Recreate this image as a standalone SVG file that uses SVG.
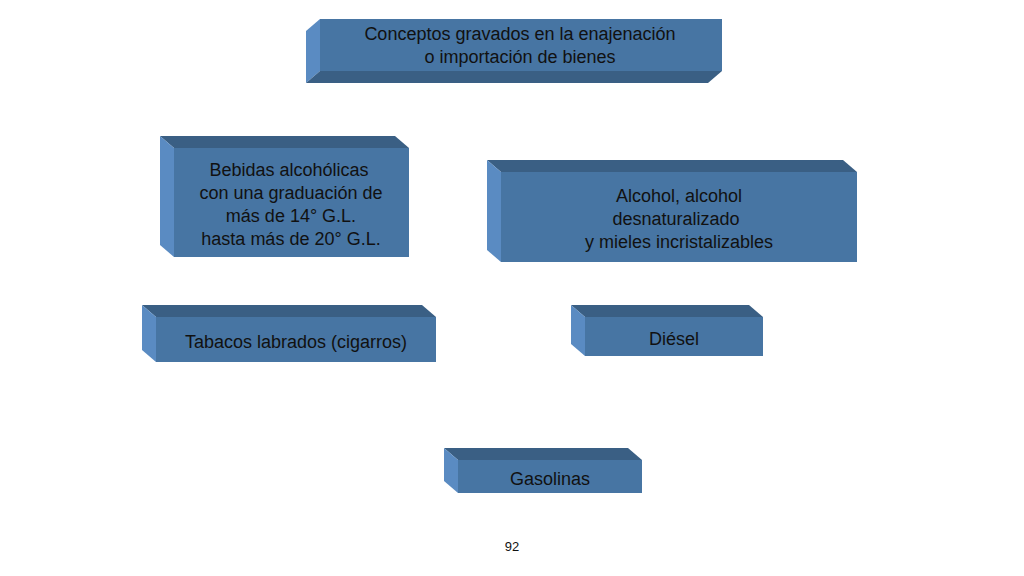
<svg xmlns="http://www.w3.org/2000/svg" width="1024" height="576" viewBox="0 0 1024 576">
<style>
.f{fill:#4775a3}.l{fill:#5a8bc2}.t{fill:#3a5f84}
text{font-family:"Liberation Sans",Arial,sans-serif;font-size:18px;fill:#111;text-anchor:middle}
</style>
<rect width="1024" height="576" fill="#fff"/>
<g id="n0">
<polygon class="l" points="306,31 320,19 320,71 306,83"/>
<polygon class="t" points="306,83 320,71 722,71 708,83"/>
<rect class="f" x="320" y="19" width="402" height="52"/>
<text x="520" y="40">Conceptos gravados en la enajenación</text>
<text x="520" y="63">o  importación de bienes</text>
</g>
<g id="n1">
<polygon class="t" points="160,136 395,136 409,148 174,148"/>
<polygon class="l" points="160,136 174,148 174,257 160,245"/>
<rect class="f" x="174" y="148" width="235" height="109"/>
<text x="289" y="176">Bebidas alcohólicas</text>
<text x="291" y="199">con una graduación de</text>
<text x="291" y="222">más de 14°   G.L.</text>
<text x="291" y="245">hasta más de 20°   G.L.</text>
</g>
<g id="n2">
<polygon class="t" points="487,160 843,160 857,172 501,172"/>
<polygon class="l" points="487,160 501,172 501,262 487,250"/>
<rect class="f" x="501" y="172" width="356" height="90"/>
<text x="679" y="202">Alcohol, alcohol</text>
<text x="676" y="225">desnaturalizado</text>
<text x="679" y="248">y mieles incristalizables</text>
</g>
<g id="n3">
<polygon class="t" points="142,305 422,305 436,317 156,317"/>
<polygon class="l" points="142,305 156,317 156,362 142,350"/>
<rect class="f" x="156" y="317" width="280" height="45"/>
<text x="296" y="348">Tabacos labrados (cigarros)</text>
</g>
<g id="n4">
<polygon class="t" points="571,305 749,305 763,317 585,317"/>
<polygon class="l" points="571,305 585,317 585,356 571,344"/>
<rect class="f" x="585" y="317" width="178" height="39"/>
<text x="674" y="345">Diésel</text>
</g>
<g id="n5">
<polygon class="t" points="444,448 628,448 642,460 458,460"/>
<polygon class="l" points="444,448 458,460 458,493 444,481"/>
<rect class="f" x="458" y="460" width="184" height="33"/>
<text x="550" y="485">Gasolinas</text>
</g>
<g id="connectors"/>
<text x="512" y="551" style="font-size:13px">92</text>
</svg>
